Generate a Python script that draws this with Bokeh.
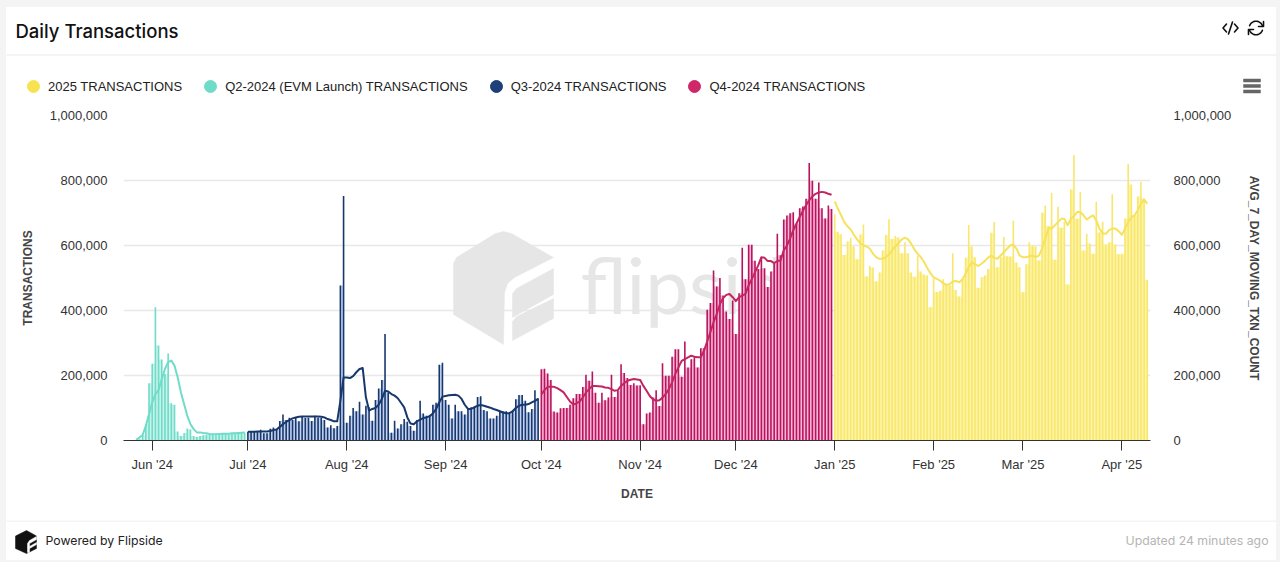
from datetime import datetime, timedelta
import numpy as np
from bokeh.core.properties import value
from bokeh.embed import file_html
from bokeh.layouts import column
from bokeh.resources import INLINE
from bokeh.plotting import figure
from bokeh.models import (FixedTicker, NumeralTickFormatter, LinearAxis, Label, PolyAnnotation,
                          Legend, LegendItem)

# Values in thousands of transactions, one per day
q2_start = datetime(2024, 5, 27)
q2_bars = [2, 4, 16, 50, 176,
           236, 410, 292, 249, 205, 268, 115, 110, 28, 14, 23, 37, 34, 14, 11, 14, 16, 18, 18, 17,
           16, 17, 22, 20, 19, 22, 20, 21, 23, 24]
q2_line = [3, 9, 17, 45, 81,
           117, 143, 155, 189, 220, 241, 246, 230, 194, 148, 112, 76, 50, 35, 25, 25, 23, 22, 20, 19,
           19, 20, 21, 21, 21, 22, 22, 23, 24, 25]

q3_start = datetime(2024, 7, 1)
q3_bars = [27, 27, 29, 27, 33, 22, 22, 36, 40, 35, 60, 80, 63, 70, 63, 72, 59, 73, 69, 70,
           60, 76, 70, 69, 63, 40, 47, 38, 45, 477, 752,
           55, 76, 100, 90, 119, 80, 107, 102, 61, 125, 160, 186, 328, 148, 24, 61, 37, 50, 66, 58,
           45, 30, 63, 122, 83, 76, 78, 110, 116, 233, 239,
           125, 110, 68, 110, 90, 90, 80, 99, 102, 105, 134, 136, 94, 90, 68, 68, 76, 90, 90, 90,
           84, 92, 127, 140, 140, 122, 87, 97, 155, 130]
q3_line = [27, 27, 27, 28, 28, 28, 28, 29, 32, 34, 42, 50, 57, 63, 68, 71, 73, 74, 74, 74,
           74, 74, 74, 73, 71, 66, 63, 59, 59, 122, 194,
           194, 192, 198, 210, 220, 223, 133, 92, 97, 100, 110, 128, 153, 151, 143, 138, 130, 116, 102, 71,
           52, 50, 59, 64, 69, 71, 75, 83, 97, 117, 135,
           137, 139, 140, 141, 138, 128, 110, 97, 97, 102, 107, 109, 107, 104, 101, 97, 94, 90, 86, 84,
           84, 90, 100, 107, 110, 110, 112, 117, 122, 128]

q4_start = datetime(2024, 10, 1)
q4_bars = [219, 221, 206, 186, 89, 86, 99, 100, 100, 110, 130, 143, 143, 165, 202, 184, 212, 147, 116, 147,
           124, 132, 202, 134, 153, 235, 208, 192, 171, 176, 169,
           170, 50, 83, 86, 132, 155, 106, 238, 199, 199, 258, 281, 281, 196, 305, 225, 250, 258, 225, 284,
           284, 402, 423, 523, 474, 500, 446, 397, 374, 431,
           328, 453, 593, 496, 602, 602, 553, 528, 564, 530, 472, 520, 544, 636, 570, 680, 692, 699, 702, 667,
           715, 720, 744, 854, 799, 744, 794, 715, 683, 723, 712]
q4_line = [142, 155, 165, 166, 165, 161, 155, 148, 134, 120, 111, 114, 120, 132, 148, 158, 168, 168, 167, 166,
           163, 162, 158, 153, 155, 168, 176, 184, 187, 189, 188,
           186, 168, 153, 137, 127, 122, 124, 132, 143, 158, 179, 204, 225, 245, 250, 256, 261, 258, 256, 256,
           276, 304, 333, 364, 389, 420, 438, 448, 451, 441,
           429, 441, 446, 451, 477, 497, 518, 539, 564, 562, 552, 552, 546, 552, 554, 585, 600, 621, 647, 667,
           688, 706, 724, 739, 751, 759, 763, 765, 763, 759, 756]

y25_start = datetime(2025, 1, 1)
y25_bars = [696, 642, 635, 571, 612, 623, 597, 558, 634, 665, 505, 537, 532, 489, 517, 585, 632, 681, 620, 629,
            625, 576, 610, 576, 517, 504, 569, 520, 511, 508, 410,
            498, 457, 461, 496, 480, 477, 576, 463, 443, 497, 562, 663, 597, 564, 470, 502, 508, 528,
            639, 672, 533, 564, 626, 567, 566, 676, 548, 533,
            456, 542, 610, 600, 597, 554, 701, 722, 660, 762, 556, 719, 655, 672, 480, 772, 878, 682, 765, 585,
            636, 606, 575, 735, 640, 673, 603, 610, 758, 603, 573,
            575, 683, 851, 788, 693, 751, 796, 745, 494]
y25_line = [736, 713, 693, 672, 659, 649, 633, 619, 607, 600, 597, 590, 575, 564, 559, 559, 564, 572, 585, 597,
            607, 619, 624, 619, 605, 587, 575, 564, 549, 531, 515,
            502, 497, 492, 484, 479, 481, 489, 491, 487, 495, 513, 533, 549, 542, 537, 544, 552, 562,
            569, 562, 559, 569, 579, 590, 600, 603, 590, 569,
            564, 564, 567, 569, 564, 569, 590, 621, 652, 652, 662, 672, 682, 682, 662, 682, 690, 703, 703, 693,
            680, 687, 693, 677, 652, 638, 636, 647, 652, 652, 644,
            633, 652, 672, 687, 693, 708, 729, 741, 729]

series_names = ["2025 TRANSACTIONS", "Q2-2024 (EVM Launch) TRANSACTIONS", "Q3-2024 TRANSACTIONS", "Q4-2024 TRANSACTIONS"]
tick_months = [(2024, 6), (2024, 7), (2024, 8), (2024, 9), (2024, 10), (2024, 11), (2024, 12),
               (2025, 1), (2025, 2), (2025, 3), (2025, 4)]
tick_labels = ["Jun '24", "Jul '24", "Aug '24", "Sep '24", "Oct '24", "Nov '24", "Dec '24",
               "Jan '25", "Feb '25", "Mar '25", "Apr '25"]
y_ticks = [0, 200000, 400000, 600000, 800000, 1000000]

CARD_L, CARD_R, CARD_T, CARD_B = 6, 1276, 7, 560
SPLIT_1, SPLIT_2 = 100, 520
FRAME_L, FRAME_R, FRAME_T, FRAME_B = 123, 1150, 115, 440
DAY = 86400000.0


def ms(d):
    return (d - datetime(1970, 1, 1)).total_seconds() * 1000


def strip(y0, y1, margin):
    f = figure(width=CARD_R - CARD_L, height=y1 - y0, output_backend="svg", toolbar_location=None,
               x_range=(CARD_L, CARD_R), y_range=(y1, y0), x_axis_location=None, y_axis_location=None,
               min_border=0, background_fill_color="white", border_fill_color="white",
               outline_line_color=None, margin=margin, frame_align=False)
    f.grid.visible = False
    return f


def put_text(f, px, baseline, text, size, color, font="Liberation Sans", align="left", style="normal"):
    f.text(x=[px], y=[baseline - 6], text=[text], text_font=value(font), text_font_size=f"{size}px",
           text_color=color, text_align=align, text_baseline="alphabetic", text_font_style=style)


def shape(f, pts, color):
    f.patch(x=[a for a, _ in pts], y=[b for _, b in pts], fill_color=color, line_color=color, line_width=0.5)


def stroke(f, xs, ys, width=1.6):
    f.line(x=xs, y=ys, line_color="#111111", line_width=width, line_join="round", line_cap="round")


# header strip
top = strip(CARD_T, SPLIT_1, (CARD_T, 1280 - CARD_R, 0, CARD_L))
shape(top, [(CARD_L, 54), (CARD_R, 54), (CARD_R, 55), (CARD_L, 55)], "#f0f0f0")
put_text(top, 15, 36, "Daily Transactions", 18.5, "#111111", font="'Inter Medium', Inter")
# code icon
stroke(top, [1226, 1222.5, 1226], [23.5, 27.5, 31.5])
stroke(top, [1234, 1237.5, 1234], [23.5, 27.5, 31.5])
stroke(top, [1232, 1228], [21.5, 33.5])
# refresh icon
theta_top = np.radians(np.linspace(200, 340, 15))
theta_bot = np.radians(np.linspace(20, 160, 15))
stroke(top, 1255.5 + 6.8 * np.cos(theta_top), 27.5 + 6.8 * np.sin(theta_top))
stroke(top, 1255.5 + 6.8 * np.cos(theta_bot), 27.5 + 6.8 * np.sin(theta_bot))
stroke(top, [1263, 1263, 1258], [21, 26, 26])
stroke(top, [1248, 1248, 1253], [34, 29, 29])
for yy in (80, 85.5, 91):
    shape(top, [(1243, yy - 1.5), (1260, yy - 1.5), (1260, yy + 1.5), (1243, yy + 1.5)], "#666666")

legend_colors = ["#f7e352", "#6edcc8", "#1f3f78", "#d0266a"]
items = []
for name, c in zip(series_names, legend_colors):
    r = top.scatter(x=[CARD_L], y=[CARD_T], size=0, marker="circle", fill_color=c, line_color=c)
    items.append(LegendItem(label=name, renderers=[r]))
leg = Legend(items=items, orientation="horizontal", location=(18 - CARD_L, SPLIT_1 - 102),
             glyph_width=30, glyph_height=32, label_standoff=0, spacing=13, padding=0, margin=0,
             border_line_color=None, background_fill_alpha=0, label_text_font="Liberation Sans",
             label_text_font_size="13px", label_text_color="#222222", label_height=32)
top.add_layout(leg, "center")

# main chart
p = figure(width=CARD_R - CARD_L, height=SPLIT_2 - SPLIT_1, output_backend="svg", toolbar_location=None,
           x_axis_type="datetime",
           x_range=(ms(datetime(2024, 5, 23)), ms(datetime(2025, 4, 10))), y_range=(0, 1000000),
           min_border_left=FRAME_L - CARD_L, min_border_right=CARD_R - FRAME_R, min_border_top=FRAME_T - SPLIT_1,
           min_border_bottom=SPLIT_2 - FRAME_B, background_fill_color="white", border_fill_color="white",
           outline_line_color=None, margin=(0, 1280 - CARD_R, 0, CARD_L), frame_align=False)
p.xgrid.visible = False
p.ygrid.grid_line_color = "#e8e8e8"
p.ygrid.grid_line_width = 1.5
p.ygrid.ticker = FixedTicker(ticks=y_ticks)


def poly(pts, color):
    p.add_layout(PolyAnnotation(xs=[a - FRAME_L for a, _ in pts], ys=[FRAME_B - b for _, b in pts],
                                xs_units="screen", ys_units="screen", fill_color=color, fill_alpha=1,
                                line_color=color, line_alpha=1, line_width=0.5, level="underlay"))


wm = "#e6e6e6"
poly([(495, 233), (503, 231), (511, 233), (553, 257), (514, 277), (507, 283), (504, 292), (503, 344),
      (453, 314), (453, 263), (456, 257)], wm)
poly([(553, 268), (516, 288), (512, 293), (512, 317), (553, 294)], wm)
poly([(553, 298), (516, 316), (512, 321), (512, 340), (553, 318)], wm)
p.add_layout(Label(x=580 - FRAME_L, y=FRAME_B - (315 - 0.4 * 78), x_units="screen", y_units="screen", text="flipside",
                   text_font="Lato", text_font_size="78px", text_color=wm, text_align="left",
                   text_baseline="middle", level="underlay"))

groups = [
    (q2_start, q2_bars, q2_line, "#6edcc8", "#c8f3ea", "#6edcc8"),
    (q3_start, q3_bars, q3_line, "#16386c", "#c6d2f1", "#16386c"),
    (q4_start, q4_bars, q4_line, "#b5155f", "#fbb6d5", "#c2255f"),
    (y25_start, y25_bars, y25_line, "#f8e66e", "#fdf5a6", "#f6e25c"),
]
for start, bars, line, col, pale, lcol in groups:
    x = [ms(start + timedelta(days=i)) for i in range(len(bars))]
    v = np.array(bars) * 1000.0
    gap_x = [a + DAY / 2 for a in x[:-1]]
    gap_top = np.minimum(v[:-1], v[1:])
    p.vbar(x=gap_x, top=gap_top, bottom=0, width=DAY * 1.0, fill_color=pale, line_color=None)
    p.vbar(x=x, top=v, bottom=0, width=DAY * 0.5, fill_color=col, line_color=None)
for start, bars, line, col, pale, lcol in groups:
    x = [ms(start + timedelta(days=i)) for i in range(len(bars))]
    p.line(x=x, y=np.array(line) * 1000.0, line_color=lcol, line_width=2, line_join="round")

tick_ms = [ms(datetime(y, m, 1)) for y, m in tick_months]
xa = p.xaxis[0]
xa.ticker = FixedTicker(ticks=tick_ms)
xa.major_label_overrides = {int(t): lab for t, lab in zip(tick_ms, tick_labels)}
xa.axis_line_color = "#333333"
xa.major_tick_line_color = "#333333"
xa.major_tick_out = 10
xa.major_tick_in = 0
xa.minor_tick_line_color = None
xa.major_label_text_font = "Liberation Sans"
xa.major_label_text_font_size = "13px"
xa.major_label_text_color = "#333333"
xa.major_label_standoff = 6
xa.axis_label = "DATE"
xa.axis_label_text_font = "Liberation Sans"
xa.axis_label_text_font_size = "12px"
xa.axis_label_text_font_style = "bold"
xa.axis_label_text_color = "#444444"
xa.axis_label_standoff = 12

ya = p.yaxis[0]
right = LinearAxis()
p.add_layout(right, "right")
for ax, title, so, tso in [(ya, "TRANSACTIONS", 10, 12), (right, "AVG_7_DAY_MOVING_TXN_COUNT", 17, 13)]:
    ax.ticker = FixedTicker(ticks=y_ticks)
    ax.formatter = NumeralTickFormatter(format="0,0")
    ax.axis_line_color = None
    ax.major_tick_line_color = None
    ax.minor_tick_line_color = None
    ax.major_label_text_font = "Liberation Sans"
    ax.major_label_text_font_size = "13px"
    ax.major_label_text_color = "#333333"
    ax.major_label_standoff = so
    ax.axis_label = title
    ax.axis_label_text_font = "Liberation Sans"
    ax.axis_label_text_font_size = "12px"
    ax.axis_label_text_font_style = "bold"
    ax.axis_label_text_color = "#444444"
    ax.axis_label_standoff = tso

# footer strip
foot = strip(SPLIT_2, CARD_B, (0, 1280 - CARD_R, 2, CARD_L))
shape(foot, [(CARD_L, 520), (CARD_R, 520), (CARD_R, 521), (CARD_L, 521)], "#f0f0f0")
shape(foot, [(26, 530), (36, 535.5), (36, 548), (26, 553), (15, 548), (15, 535.5)], "#111111")
shape(foot, [(36, 536), (29, 540), (27, 543), (27, 552), (29, 552), (29, 543), (36, 539)], "#ffffff")
shape(foot, [(29, 546), (36, 542), (36, 544), (29, 548)], "#ffffff")
put_text(foot, 45, 546, "Powered by Flipside", 12.3, "#222222", font="Inter")
put_text(foot, 1268, 546, "Updated 24 minutes ago", 12.3, "#b5b5b5", font="Inter", align="right")

page = column(top, p, foot, spacing=0, width=1280, height=562,
              styles={"background": "linear-gradient(#fff,#fff) 6px 7px/1270px 553px no-repeat, #f4f4f4"})
open("out.html", "w").write(file_html(page, INLINE))
